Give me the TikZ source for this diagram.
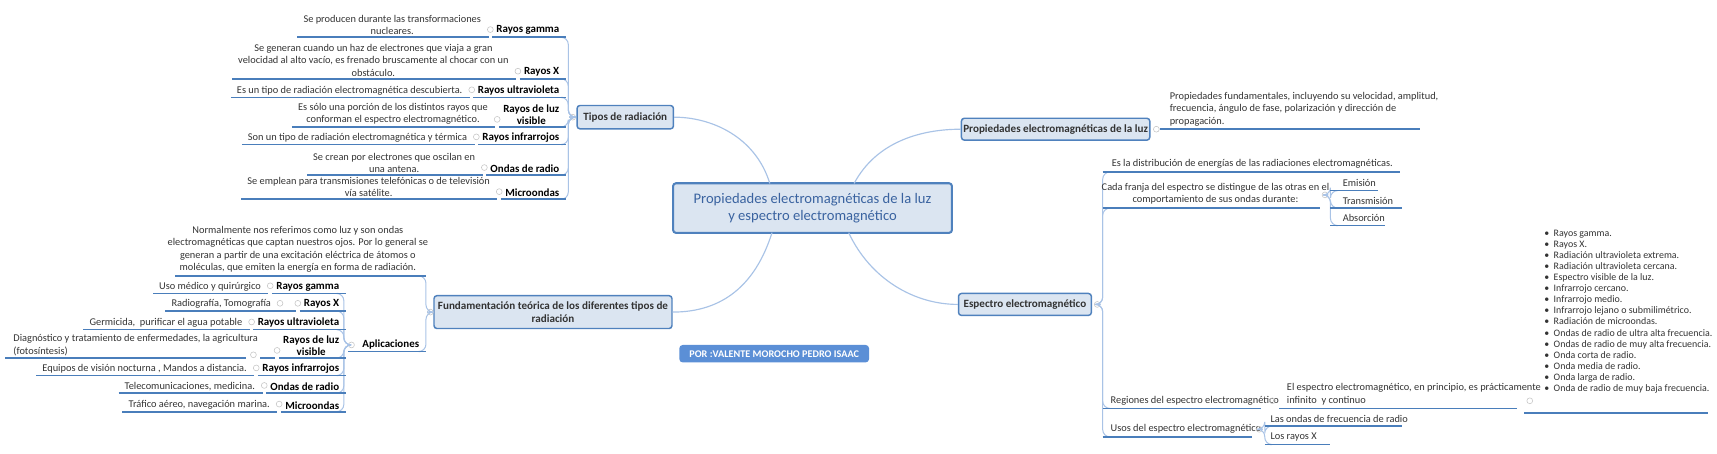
\documentclass[tikz,border=0pt]{standalone}
\usepackage{fontspec}
\setmainfont{Carlito}
\definecolor{bord}{HTML}{4F81BD}
\definecolor{boxf}{HTML}{DBE5F1}
\definecolor{ulc}{HTML}{4A7EBB}
\definecolor{conc}{HTML}{A9C3E6}
\definecolor{txt}{HTML}{333333}
\definecolor{ctxt}{HTML}{3A63A0}
\definecolor{porf}{HTML}{5B8FD6}
\newcommand\lft[6]{%
\node[b,anchor=south east] (#1) at (#3,#2-2) {#4};
\node[cc] (#1c) at ([xshift=-4pt]#1.west |- 0,#2-7) {};
\node[t,anchor=south east] (#1d) at ([xshift=-4pt]#1c.west |- 0,#2-2) {#5};
\draw[ul] ([xshift=-4pt]#1d.west |- 0,#2) -- ([xshift=1pt]#1c.west |- 0,#2);
\draw[ul] ([xshift=-1pt]#1c.east |- 0,#2) -- (#6,#2);}
\begin{document}
\begin{tikzpicture}[x=0.75pt,y=-0.75pt,
 box/.style={draw=bord,fill=boxf,rounded corners=2pt,line width=1pt,text=txt,font=\fontsize{7.6}{9.2}\selectfont\bfseries,align=center,inner sep=0},
 ul/.style={draw=ulc,line width=1.1pt},
 con/.style={draw=conc,line width=0.7pt,rounded corners=5pt},
 mcon/.style={draw=conc,line width=0.8pt},
 t/.style={font=\fontsize{7.1}{8.5}\selectfont,text=txt,inner sep=0,align=center},
 tl/.style={t,align=left},
 b/.style={font=\fontsize{7.5}{8.3}\selectfont\bfseries,text=black,inner sep=0,align=center},
 cc/.style={circle,draw=gray!45,line width=0.4pt,inner sep=0,minimum size=4pt}]
\useasboundingbox (0,0) rectangle (1568,414.6);
% main boxes
\node[box,minimum width=191pt,minimum height=34pt,line width=1.4pt,font=\fontsize{10}{12}\selectfont,text=ctxt] (c) at (742,190) {Propiedades electromagnéticas de la luz\\ y espectro electromagnético};
\node[box,minimum width=66pt,minimum height=16pt] (tipos) at (571,107) {Tipos de radiación};
\node[box,minimum width=129pt,minimum height=15pt] (prop) at (964,118) {Propiedades electromagnéticas de la luz};
\node[box,minimum width=163pt,minimum height=22.5pt] (fund) at (505,285) {Fundamentación teórica de los diferentes tipos de\\ radiación};
\node[box,minimum width=91pt,minimum height=15pt] (esp) at (936,278) {Espectro electromagnético};
\node[box,draw=porf,fill=porf,text=white,minimum width=129pt,minimum height=11pt,font=\fontsize{7}{8}\selectfont\bfseries] (por) at (707,323) {POR :VALENTE MOROCHO PEDRO ISAAC};
% main connectors
\draw[mcon] (703,167.5) .. controls (690,125) and (650,107) .. (tipos.east);
\draw[mcon] (780,167.5) .. controls (800,130) and (840,118) .. (prop.west);
\draw[mcon] (705,212.5) .. controls (690,260) and (660,285) .. (fund.east);
\draw[mcon] (775,212.5) .. controls (795,255) and (835,278) .. (esp.west);
% ---------- Tipos de radiacion ----------
\node[cc] (ct) at (523,107) {};
\foreach \y in {34,72,89,116,132,160,182}{\draw[con] (ct.west) -- (519,107) -- (519,\y) -- (514,\y);}
\lft{g1}{34}{511}{Rayos gamma}{Se producen durante las transformaciones\\ nucleares.}{517}
\lft{g2}{72}{511}{Rayos X}{Se generan cuando un haz de electrones que viaja a gran\\ velocidad al alto vacío, es frenado bruscamente al chocar con un\\ obstáculo.}{517}
\lft{g3}{89}{511}{Rayos ultravioleta}{Es un tipo de radiación electromagnética descubierta.}{517}
\lft{g4}{116}{511}{Rayos de luz\\ visible}{Es sólo una porción de los distintos rayos que\\ conforman el espectro electromagnético.}{517}
\lft{g5}{132}{511}{Rayos infrarrojos}{Son un tipo de radiación electromagnética y térmica}{517}
\lft{g6}{160}{511}{Ondas de radio}{Se crean por electrones que oscilan en\\ una antena.}{517}
\lft{g7}{182}{511}{Microondas}{Se emplean para transmisiones telefónicas o de televisión\\ vía satélite.}{517}
% ---------- Fundamentacion ----------
\node[cc] (cf) at (393,285) {};
\foreach \y in {252,321}{\draw[con] (cf.west) -- (389,285) -- (389,\y) -- (384,\y);}
\node[t,anchor=south] (nd) at (272,249) {Normalmente nos referimos como luz y son ondas\\ electromagnéticas que captan nuestros ojos. Por lo general se\\ generan a partir de una excitación eléctrica de átomos o\\ moléculas, que emiten la energía en forma de radiación.};
\draw[ul] (160,252) -- (389,252);
\node[b,anchor=south east] (apl) at (383,319) {Aplicaciones}; \node[cc] (ca) at (321,315) {};
\draw[ul] (318,321) -- (389,321);
\foreach \y in {268,284,301,327,343,359,376}{\draw[con] (ca.west) -- (314,315) -- (314,\y) -- (309,\y);}
\lft{a1}{268}{310}{Rayos gamma}{Uso médico y quirúrgico}{316}
\lft{a2}{284}{310}{Rayos X}{Radiografía, Tomografía\hspace{12pt}\mbox{}}{316}
\node[cc] at ([xshift=-10pt]a2c.west) {};
\lft{a3}{301}{310}{Rayos ultravioleta}{Germicida,\ \ purificar el agua potable}{316}
\lft{a4}{327}{310}{Rayos de luz\\ visible}{\hspace*{0pt}\hbox to 0pt{}}{316}
\node[cc] (a4c2) at ([xshift=-14pt]a4c.west |- 0,324) {};
\node[tl,anchor=south west] (a4d2) at (12,325) {Diagnóstico y tratamiento de enfermedades, la agricultura\\(fotosíntesis)};
\draw[ul] (5,327) -- ([xshift=-3pt]a4c2.west |- 0,327);
\lft{a5}{343}{310}{Rayos infrarrojos}{Equipos de visión nocturna , Mandos a distancia.}{316}
\lft{a6}{359}{310}{Ondas de radio}{Telecomunicaciones, medicina.}{316}
\lft{a7}{376}{310}{Microondas}{Tráfico aéreo, navegación marina.}{316}
% ---------- Propiedades ----------
\node[cc] (cp) at (1056,118) {};
\node[tl,anchor=north west] (pd) at (1068,84) {Propiedades fundamentales, incluyendo su velocidad, amplitud,\\ frecuencia, ángulo de fase, polarización y dirección de\\ propagación.};
\draw[ul] (cp.east) -- (1297,118);
% ---------- Espectro ----------
\node[cc] (ce) at (1002,278) {};
\foreach \y in {157,190,373,399}{\draw[con] (ce.east) -- (1007,278) -- (1007,\y) -- (1012,\y);}
\node[tl,anchor=south west] (e1) at (1015,154) {Es la distribución de energías de las radiaciones electromagnéticas.};
\draw[ul] (1007,157) -- ([xshift=5pt]e1.east |- 0,157);
\node[t,anchor=south] (e2) at (1110,187) {Cada franja del espectro se distingue de las otras en el\\ comportamiento de sus ondas durante:};
\draw[ul] (1007,190) -- (1205,190);
\node[cc] (ce2) at (1210,178) {};
\foreach \y in {174,190,206}{\draw[con] (ce2.east) -- (1215,178) -- (1215,\y) -- (1220,\y);}
\node[t,anchor=south west] (em) at (1226,171) {Emisión}; \draw[ul] (1215,174) -- (1258,174);
\node[t,anchor=south west] (tr) at (1226,187) {Transmisión}; \draw[ul] (1215,190) -- (1280,190);
\node[t,anchor=south west] (ab) at (1226,203) {Absorción}; \draw[ul] (1215,206) -- (1265,206);
\node[t,anchor=south west] (reg) at (1014,370) {Regiones del espectro electromagnético};
\draw[ul] (1007,373) -- (1152,373); \node[cc] at (1162,366) {};
\node[tl,anchor=south west] (regd) at (1175,370) {El espectro electromagnético, en principio, es prácticamente\\ infinito\ \ y continuo};
\draw[ul] (1168,373) -- (1385,373); \node[cc] at (1397,366) {};
\node[tl,anchor=south west,font=\fontsize{6.8}{7.55}\selectfont] (lst) at (1410,359) {•\ \ Rayos gamma.\\•\ \ Rayos X.\\•\ \ Radiación ultravioleta extrema.\\•\ \ Radiación ultravioleta cercana.\\•\ \ Espectro visible de la luz.\\•\ \ Infrarrojo cercano.\\•\ \ Infrarrojo medio.\\•\ \ Infrarrojo lejano o submilimétrico.\\•\ \ Radiación de microondas.\\•\ \ Ondas de radio de ultra alta frecuencia.\\•\ \ Ondas de radio de muy alta frecuencia.\\•\ \ Onda corta de radio.\\•\ \ Onda media de radio.\\•\ \ Onda larga de radio.\\•\ \ Onda de radio de muy baja frecuencia.};
\draw[ul] (1392,377) -- (1560,377);
\node[t,anchor=south west] (uso) at (1014,396) {Usos del espectro electromagnético};
\draw[ul] (1007,399) -- (1143,399); \node[cc] (cu) at (1150,392) {};
\foreach \y in {389,406}{\draw[con] (cu.east) -- (1155,392) -- (1155,\y) -- (1160,\y);}
\node[t,anchor=south west] (u1) at (1160,386) {Las ondas de frecuencia de radio}; \draw[ul] (1155,389) -- (1280,389);
\node[t,anchor=south west] (u2) at (1160,403) {Los rayos X}; \draw[ul] (1155,406) -- (1215,406);
\end{tikzpicture}
\end{document}
